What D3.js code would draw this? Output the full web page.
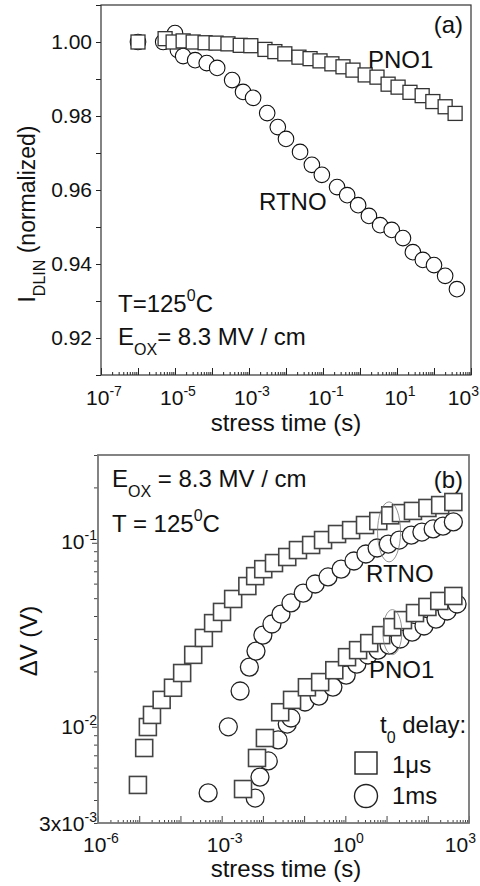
<!DOCTYPE html>
<html>
<head>
<meta charset="utf-8">
<script src="https://cdn.jsdelivr.net/npm/d3@7"></script>
<style>
body { margin: 0; background: #fff; }
svg text { font-family: "Liberation Sans", Arial, Helvetica, sans-serif; fill: #111; }
</style>
</head>
<body>
<svg id="chart" width="480" height="886"></svg>
<script>
// ---- panel (a): normalized I_DLIN vs stress time
const pnoTimeA = [1e-6, 5.4e-6, 8.9e-6, 1.66e-5, 3.1e-5, 6.5e-5, 1.29e-4, 2.7e-4, 5.8e-4, 1.12e-3,
    2.7e-3, 5.0e-3, 9.3e-3, 0.0224, 0.0447, 0.083, 0.174, 0.347, 0.646, 1.38,
    2.88, 5.75, 10.7, 22.4, 47.9, 93, 200, 372]
const pnoIdA = [1.000, 1.0009, 1.000, 1.0003, 1.000, 0.9998, 0.9997, 0.9995, 0.9991, 0.9990,
    0.9980, 0.9974, 0.9968, 0.9959, 0.9955, 0.9949, 0.9941, 0.9933, 0.9924, 0.9911,
    0.9905, 0.9886, 0.9878, 0.9864, 0.9855, 0.9839, 0.9825, 0.9807]
const rtnoTimeA = [1e-6, 4.8e-6, 1e-5, 1.2e-5, 1.66e-5, 3.5e-5, 7.2e-5, 1.38e-4, 3.5e-4, 6.9e-4,
    1.29e-3, 3.1e-3, 6e-3, 0.01, 0.024, 0.05, 0.093, 0.24, 0.45, 0.89,
    1.74, 3.5, 7.2, 14.5, 26.9, 50, 100, 200, 417]
const rtnoIdA = [1.0000, 1.0000, 1.0024, 0.9978, 0.9962, 0.9951, 0.9943, 0.9930, 0.9897, 0.9865,
    0.9849, 0.9808, 0.9770, 0.9738, 0.9703, 0.9668, 0.9641, 0.9608, 0.9586, 0.9559,
    0.9530, 0.9505, 0.9492, 0.9470, 0.9432, 0.9411, 0.9397, 0.9368, 0.9332]

// ---- panel (b): delta V vs stress time, two t0 delays
const rtnoTimeUs = [9.3e-6, 1.32e-5, 1.62e-5, 2.04e-5, 3.5e-5, 6.6e-5, 1.1e-4, 2.04e-4, 3.7e-4, 6.2e-4,
    1.02e-3, 1.9e-3, 4.2e-3, 6.5e-3, 0.0102, 0.0186, 0.039, 0.071, 0.148, 0.288,
    0.63, 1.38, 3.0, 6.3, 12.3, 22.4, 43.7, 98, 200, 417]
const rtnoDvUs = [0.00483, 0.00767, 0.00997, 0.0116, 0.0140, 0.0163, 0.0196, 0.0246, 0.0304, 0.0366,
    0.0421, 0.0495, 0.0582, 0.0659, 0.0719, 0.0776, 0.0837, 0.0913, 0.0973, 0.1035,
    0.1116, 0.1172, 0.1249, 0.1313, 0.141, 0.145, 0.149, 0.1546, 0.1603, 0.1666]
const rtnoTimeMs = [4.7e-4, 1.45e-3, 2.8e-3, 4.7e-3, 6.8e-3, 0.01, 0.0166, 0.0275, 0.048, 0.095,
    0.186, 0.38, 0.79, 1.62, 3.16, 5.9, 11, 20.4, 39.8, 72, 135, 234, 417]
const rtnoDvMs = [0.00437, 0.0100, 0.01565, 0.0211, 0.0258, 0.0315, 0.0362, 0.0410, 0.0471, 0.0533,
    0.0597, 0.0652, 0.0719, 0.0796, 0.0869, 0.0937, 0.0984, 0.1035, 0.1101, 0.1144, 0.1189, 0.1233, 0.1298]
const pnoTimeUs = [3.3e-3, 7.2e-3, 0.0112, 0.0263, 0.051, 0.117, 0.245, 0.54, 1.1, 2.04,
    3.8, 7.4, 13.8, 25, 49, 98, 190, 417]
const pnoDvUs = [0.00459, 0.00677, 0.00869, 0.0120, 0.0140, 0.0164, 0.0175, 0.0203, 0.0239, 0.0261,
    0.0285, 0.0315, 0.0348, 0.0380, 0.0415, 0.0448, 0.0483, 0.0514]
const pnoTimeMs = [6.5e-3, 8.5e-3, 0.0135, 0.0234, 0.039, 0.048, 0.105, 0.229, 0.50, 1.05,
    1.9, 3.55, 6.2, 11.5, 21.4, 41.7, 81, 158, 295, 513]
const pnoDvMs = [0.00410, 0.00533, 0.00652, 0.00848, 0.01035, 0.01116, 0.01364, 0.01469, 0.01644, 0.0191,
    0.0219, 0.02455, 0.0261, 0.0278, 0.0300, 0.0327, 0.0353, 0.0385, 0.0426, 0.0465]
// circled points (ellipse centres)
const circledTime = [11.5, 13.8]
const circledDv = [0.1146, 0.0327]

// tick labels
const yTicksA = [0.92, 0.94, 0.96, 0.98, 1.00]
const xExpA = [-7, -5, -3, -1, 1, 3]
const xExpB = [-6, -3, 0, 3]

const svg = d3.select('#chart')

const zip = (xs, ys) => xs.map((x, i) => ({ t: x, v: ys[i] }))

// decade + 2..9 tick positions for a log domain
const logTicks = (lo, hi) => {
    const major = [], minor = []
    for (let e = Math.floor(Math.log10(lo)); e <= Math.ceil(Math.log10(hi)); e++) {
        for (let k = 1; k < 10; k++) {
            const v = k * Math.pow(10, e)
            if (v < lo * 0.999 || v > hi * 1.001) continue
            if (k === 1) major.push(v); else minor.push(v)
        }
    }
    return { major, minor }
}

// text with sub / superscripts: parts = [[str, 'n'|'sub'|'sup']]
function richText(g, x, y, parts, size, anchor) {
    const t = g.append('text').attr('x', x).attr('y', y)
        .attr('font-size', size).attr('text-anchor', anchor || 'start')
    let shift = 0
    parts.forEach(([s, kind]) => {
        let target = 0, fs = size
        if (kind === 'sub') { target = Math.round(size * 0.42); fs = Math.round(size * 0.68) }
        if (kind === 'sup') { target = -Math.round(size * 0.45); fs = Math.round(size * 0.66) }
        t.append('tspan').attr('dy', target - shift).attr('font-size', fs).text(s)
        shift = target
    })
    return t
}

function bottomTicks(g, x, y0, lo, hi) {
    const lt = logTicks(lo, hi)
    g.append('g').attr('transform', `translate(0,${y0})`)
        .call(d3.axisBottom(x).tickValues(lt.minor).tickSize(-3).tickFormat(''))
    g.append('g').attr('transform', `translate(0,${y0})`)
        .call(d3.axisBottom(x).tickValues(lt.major).tickSize(-7).tickFormat(''))
}

// exponent labels; the last one is pulled in so it stays on the page
function expLabels(g, x, exps, y, rightEdge) {
    exps.forEach((e, i) => {
        const last = i === exps.length - 1
        richText(g, last ? rightEdge : x(Math.pow(10, e)) + 3, y,
            [['10', 'n'], [String(e), 'sup']], 21, last ? 'end' : 'middle')
    })
}

// ================= panel (a)
const xA = d3.scaleLog().domain([1e-7, 1e3]).range([101, 471])
const yA = d3.scaleLinear().domain([0.91, 1.01]).range([375, 5])
const gA = svg.append('g')

bottomTicks(gA, xA, 375, 1e-7, 1e3)
gA.append('g').attr('transform', 'translate(101,0)')
    .call(d3.axisLeft(yA).tickValues(d3.range(0.91, 1.0101, 0.01)).tickSize(5).tickFormat(''))
gA.selectAll('.domain').remove()
gA.selectAll('.tick line').attr('stroke', '#222')

gA.append('rect').attr('x', 101).attr('y', 5).attr('width', 370).attr('height', 370)
    .attr('fill', 'none').attr('stroke', '#333').attr('stroke-width', 1.2)

yTicksA.forEach(v => {
    gA.append('text').attr('x', 92).attr('y', yA(v) + 7).attr('font-size', 21)
        .attr('text-anchor', 'end').text(v.toFixed(2))
})
expLabels(gA, xA, xExpA, 405, 479)
gA.append('text').attr('x', 286).attr('y', 431).attr('font-size', 24)
    .attr('text-anchor', 'middle').text('stress time (s)')
richText(gA.append('g').attr('transform', 'translate(35,214) rotate(-90)'), 0, 0,
    [['I', 'n'], ['DLIN', 'sub'], [' (normalized)', 'n']], 23, 'middle')

// RTNO circles under PNO1 squares
gA.append('g').selectAll('circle').data(zip(rtnoTimeA, rtnoIdA)).enter().append('circle')
    .attr('cx', d => xA(d.t)).attr('cy', d => yA(d.v)).attr('r', 7.8)
    .attr('fill', '#fff').attr('stroke', '#111').attr('stroke-width', 1.1)
gA.append('g').selectAll('rect').data(zip(pnoTimeA, pnoIdA)).enter().append('rect')
    .attr('x', d => xA(d.t) - 7).attr('y', d => yA(d.v) - 7).attr('width', 14).attr('height', 14)
    .attr('fill', '#fff').attr('stroke', '#333').attr('stroke-width', 1.3)

gA.append('text').attr('x', 463).attr('y', 33).attr('font-size', 24).attr('text-anchor', 'end').text('(a)')
gA.append('text').attr('x', 368).attr('y', 68).attr('font-size', 24).text('PNO1')
gA.append('text').attr('x', 259).attr('y', 210).attr('font-size', 24).text('RTNO')
richText(gA, 118, 312, [['T=125', 'n'], ['0', 'sup'], ['C', 'n']], 24)
richText(gA, 118, 345, [['E', 'n'], ['OX', 'sub'], ['= 8.3 MV / cm', 'n']], 24)

// ================= panel (b)
const xB = d3.scaleLog().domain([1e-6, 1e3]).range([98, 469])
const yB = d3.scaleLog().domain([3e-3, 3e-1]).range([823, 455])
const gB = svg.append('g')

bottomTicks(gB, xB, 823, 1e-6, 1e3)
const ltY = logTicks(3e-3, 3e-1)
gB.append('g').attr('transform', 'translate(98,0)')
    .call(d3.axisLeft(yB).tickValues(ltY.minor).tickSize(4).tickFormat(''))
gB.append('g').attr('transform', 'translate(98,0)')
    .call(d3.axisLeft(yB).tickValues(ltY.major).tickSize(6).tickFormat(''))
gB.selectAll('.domain').remove()
gB.selectAll('.tick line').attr('stroke', '#444')

gB.append('rect').attr('x', 98).attr('y', 455).attr('width', 371).attr('height', 368)
    .attr('fill', 'none').attr('stroke', '#777').attr('stroke-width', 1.8)

richText(gB, 97, yB(0.1) + 6, [['10', 'n'], ['-1', 'sup']], 21, 'end')
richText(gB, 97, yB(0.01) + 7, [['10', 'n'], ['-2', 'sup']], 21, 'end')
richText(gB, 97, yB(0.003) + 8, [['3x10', 'n'], ['-3', 'sup']], 21, 'end')
expLabels(gB, xB, xExpB, 852, 476)
gB.append('text').attr('x', 286).attr('y', 877).attr('font-size', 24)
    .attr('text-anchor', 'middle').text('stress time (s)')
gB.append('text').attr('transform', 'translate(37,641) rotate(-90)').attr('font-size', 24)
    .attr('text-anchor', 'middle').text('ΔV (V)')

const circles = (g, data) => g.append('g').selectAll('circle').data(data).enter().append('circle')
    .attr('cx', d => xB(d.t)).attr('cy', d => yB(d.v)).attr('r', 9)
    .attr('fill', '#fff').attr('stroke', '#222').attr('stroke-width', 1.3)
const squares = (g, data) => g.append('g').selectAll('rect').data(data).enter().append('rect')
    .attr('x', d => xB(d.t) - 8.5).attr('y', d => yB(d.v) - 8.5).attr('width', 17).attr('height', 17)
    .attr('fill', '#fff').attr('stroke', '#444').attr('stroke-width', 1.6)

circles(gB, zip(rtnoTimeMs, rtnoDvMs))
squares(gB, zip(rtnoTimeUs, rtnoDvUs))
circles(gB, zip(pnoTimeMs, pnoDvMs))
squares(gB, zip(pnoTimeUs, pnoDvUs))

const ellR = [[11.5, 30], [9.5, 22.5]]
gB.append('g').selectAll('ellipse').data(zip(circledTime, circledDv)).enter().append('ellipse')
    .attr('cx', d => xB(d.t)).attr('cy', d => yB(d.v))
    .attr('rx', (d, i) => ellR[i][0]).attr('ry', (d, i) => ellR[i][1])
    .attr('fill', 'none').attr('stroke', '#777').attr('stroke-width', 0.8)

gB.append('text').attr('x', 463).attr('y', 488).attr('font-size', 24).attr('text-anchor', 'end').text('(b)')
richText(gB, 112, 487, [['E', 'n'], ['OX', 'sub'], [' = 8.3 MV / cm', 'n']], 24)
richText(gB, 112, 532, [['T = 125', 'n'], ['0', 'sup'], ['C', 'n']], 24)
gB.append('text').attr('x', 366).attr('y', 582).attr('font-size', 24).text('RTNO')
gB.append('text').attr('x', 369).attr('y', 678).attr('font-size', 24).text('PNO1')

// legend
richText(gB, 380, 733, [['t', 'n'], ['0', 'sub'], [' delay:', 'n']], 24)
gB.append('rect').attr('x', 355).attr('y', 752).attr('width', 22).attr('height', 22)
    .attr('fill', '#fff').attr('stroke', '#222').attr('stroke-width', 1.4)
gB.append('text').attr('x', 392).attr('y', 773).attr('font-size', 24).text('1μs')
gB.append('circle').attr('cx', 366).attr('cy', 796).attr('r', 11.5)
    .attr('fill', '#fff').attr('stroke', '#222').attr('stroke-width', 1.4)
gB.append('text').attr('x', 392).attr('y', 804).attr('font-size', 24).text('1ms')
</script>
</body>
</html>
